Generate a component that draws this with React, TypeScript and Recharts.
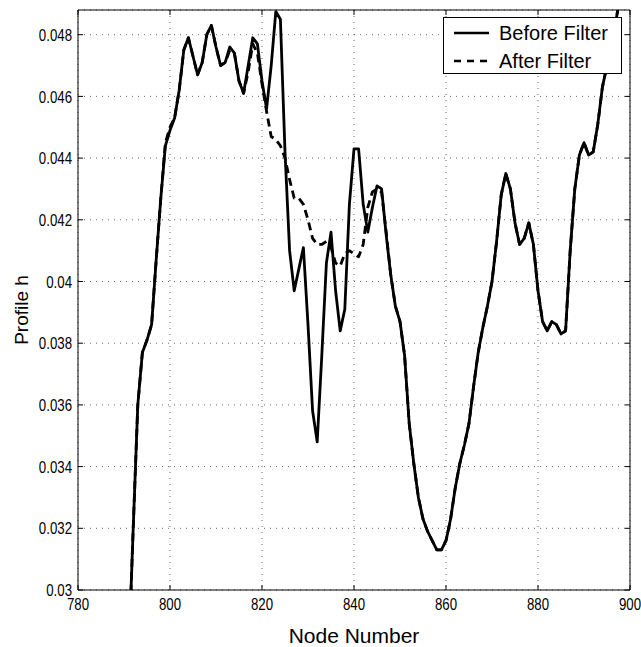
import React from 'react';
import { LineChart, Line, XAxis, YAxis, CartesianGrid, Legend } from 'recharts';

// node numbers start at 791 (first point sits below the 0.03 floor and is clipped)
const FIRST_NODE = 791;

const beforeFilter = [
  0.0278, 0.032, 0.036, 0.0377, 0.0381, 0.0386, 0.0407, 0.0427, 0.0444, 0.0449,
  0.0453, 0.0462, 0.0475, 0.0479, 0.0473, 0.0467, 0.0471, 0.048, 0.0483, 0.0476,
  0.047, 0.0471, 0.0476, 0.0474, 0.0465, 0.0461, 0.047, 0.0479, 0.0477, 0.0465,
  0.0456, 0.047, 0.04875, 0.0485, 0.0442, 0.041, 0.0397, 0.0404, 0.0411, 0.0386,
  0.0358, 0.0348, 0.0376, 0.0406, 0.0416, 0.0397, 0.0384, 0.0391, 0.0425, 0.0443,
  0.0443, 0.0425, 0.0416, 0.0424, 0.0431, 0.043, 0.0415, 0.0402, 0.0392, 0.0387,
  0.0376, 0.0354, 0.0341, 0.033, 0.0323, 0.0319, 0.0316, 0.0313, 0.0313, 0.0316,
  0.0323, 0.0333, 0.0341, 0.0347, 0.0354, 0.0366, 0.0377, 0.0385, 0.0392, 0.04,
  0.0413, 0.0428, 0.0435, 0.043, 0.0419, 0.0412, 0.0414, 0.0419, 0.0412, 0.0397,
  0.0387, 0.0384, 0.0387, 0.0386, 0.0383, 0.0384, 0.041, 0.043, 0.0441, 0.0445,
  0.0441, 0.0442, 0.0451, 0.0463, 0.047, 0.0476, 0.0485, 0.0494, 0.0502, 0.0509,
];

const afterFilter = [
  0.0278, 0.032, 0.036, 0.0377, 0.0381, 0.0386, 0.0407, 0.0427, 0.0445, 0.045,
  0.0453, 0.0462, 0.0475, 0.0479, 0.0473, 0.0467, 0.0471, 0.048, 0.0483, 0.0476,
  0.047, 0.0471, 0.0475, 0.0474, 0.0465, 0.0461, 0.0468, 0.0477, 0.0474, 0.0464,
  0.0455, 0.0447, 0.0446, 0.0444, 0.044, 0.0433, 0.0427, 0.0427, 0.0425, 0.042,
  0.0414, 0.0412, 0.0412, 0.0413, 0.0411, 0.0406, 0.0405, 0.0409, 0.041, 0.0409,
  0.0408, 0.0412, 0.0424, 0.0429, 0.043, 0.0429, 0.0416, 0.0402, 0.0392, 0.0387,
  0.0376, 0.0354, 0.0341, 0.033, 0.0323, 0.0319, 0.0316, 0.0313, 0.0313, 0.0316,
  0.0323, 0.0333, 0.0341, 0.0347, 0.0354, 0.0366, 0.0377, 0.0385, 0.0392, 0.04,
  0.0413, 0.0428, 0.0435, 0.043, 0.0419, 0.0412, 0.0414, 0.0419, 0.0412, 0.0397,
  0.0387, 0.0384, 0.0387, 0.0386, 0.0383, 0.0384, 0.041, 0.043, 0.0441, 0.0445,
  0.0441, 0.0442, 0.0451, 0.0463, 0.047, 0.0476, 0.0485, 0.0494, 0.0502, 0.0509,
];

const xTicks = [780, 800, 820, 840, 860, 880, 900];
const yTicks = [0.03, 0.032, 0.034, 0.036, 0.038, 0.04, 0.042, 0.044, 0.046, 0.048];

const data = beforeFilter.map((v, i) => ({
  node: FIRST_NODE + i,
  before: v,
  after: afterFilter[i],
}));

const labelFont = "'Liberation Sans', Arial, sans-serif";

const fmtY = (v: number) => String(Number(v.toFixed(3)));

// condensed tick labels (the original uses a narrow Helvetica)
const XTick = (props: any) => {
  const { x, y, payload } = props;
  return (
    <text
      transform={`translate(${x},${y}) scale(0.78,1)`}
      textAnchor="middle"
      dy="0.75em"
      fontSize={17}
      fontFamily={labelFont}
      fill="#000"
    >
      {payload.value}
    </text>
  );
};

const YTick = (props: any) => {
  const { x, y, payload } = props;
  return (
    <text
      transform={`translate(${x},${y}) scale(0.78,1)`}
      textAnchor="end"
      dy="0.36em"
      fontSize={17}
      fontFamily={labelFont}
      fill="#000"
    >
      {fmtY(payload.value)}
    </text>
  );
};

// top/right axes only carry the inward tick marks
const NoLabel = () => <g />;

const LegendBox = () => (
  <div
    style={{
      width: 177,
      height: 55,
      border: '1px solid #000',
      background: '#fff',
      position: 'relative',
    }}
  >
    <svg width={177} height={55} style={{ position: 'absolute', left: 0, top: 0 }}>
      <line x1={10} y1={15} x2={45} y2={15} stroke="#000" strokeWidth={2.5} />
      <line x1={10} y1={43} x2={45} y2={43} stroke="#000" strokeWidth={2.5} strokeDasharray="7 6" />
      <text x={55} y={22} fontSize={20} fontFamily={labelFont}>Before Filter</text>
      <text x={55} y={50} fontSize={20} fontFamily={labelFont}>After Filter</text>
    </svg>
  </div>
);

export default function App() {
  return (
    <div style={{ position: 'absolute', left: 0, top: 0, width: 641, height: 647, background: '#fff' }}>
      <LineChart width={641} height={647} data={data} margin={{ top: 8, right: 9, bottom: 0, left: 0 }}>
        <CartesianGrid xAxisId="bottom" yAxisId="left" stroke="#666" strokeDasharray="1 5" />
        <XAxis
          xAxisId="bottom"
          dataKey="node"
          type="number"
          domain={[780, 900]}
          ticks={xTicks}
          interval={0}
          allowDataOverflow
          height={57}
          stroke="#000"
          tickSize={-5}
          tickMargin={12}
          tick={<XTick />}
          label={() => (
            <text x={354} y={643} textAnchor="middle" fontSize={21} fontFamily={labelFont} fill="#000">
              Node Number
            </text>
          )}
        />
        <XAxis
          xAxisId="top"
          orientation="top"
          dataKey="node"
          type="number"
          domain={[780, 900]}
          ticks={xTicks}
          interval={0}
          allowDataOverflow
          height={2}
          stroke="#000"
          tickSize={-5}
          tick={<NoLabel />}
        />
        <YAxis
          yAxisId="left"
          type="number"
          domain={[0.03, 0.0488]}
          ticks={yTicks}
          interval={0}
          allowDataOverflow
          width={78}
          stroke="#000"
          tickSize={-5}
          tickMargin={11}
          tick={<YTick />}
          label={() => (
            <text
              x={0}
              y={0}
              transform="translate(28, 310) rotate(-90)"
              textAnchor="middle"
              fontSize={19}
              fontFamily={labelFont}
              fill="#000"
            >
              Profile h
            </text>
          )}
        />
        <YAxis
          yAxisId="right"
          orientation="right"
          type="number"
          domain={[0.03, 0.0488]}
          ticks={yTicks}
          interval={0}
          allowDataOverflow
          width={2}
          stroke="#000"
          tickSize={-5}
          tick={<NoLabel />}
        />
        <Legend
          layout="vertical"
          align="center"
          verticalAlign="middle"
          wrapperStyle={{ position: 'absolute', left: 443, top: 17, width: 179, height: 57 }}
          content={() => <LegendBox />}
        />
        <Line
          xAxisId="bottom"
          yAxisId="left"
          type="linear"
          dataKey="before"
          stroke="#000"
          strokeWidth={2.8}
          strokeLinejoin="round"
          dot={false}
          activeDot={false}
          isAnimationActive={false}
        />
        <Line
          xAxisId="bottom"
          yAxisId="left"
          type="linear"
          dataKey="after"
          stroke="#000"
          strokeWidth={2.8}
          strokeDasharray="8 5"
          strokeLinejoin="round"
          dot={false}
          activeDot={false}
          isAnimationActive={false}
        />
      </LineChart>
    </div>
  );
}
